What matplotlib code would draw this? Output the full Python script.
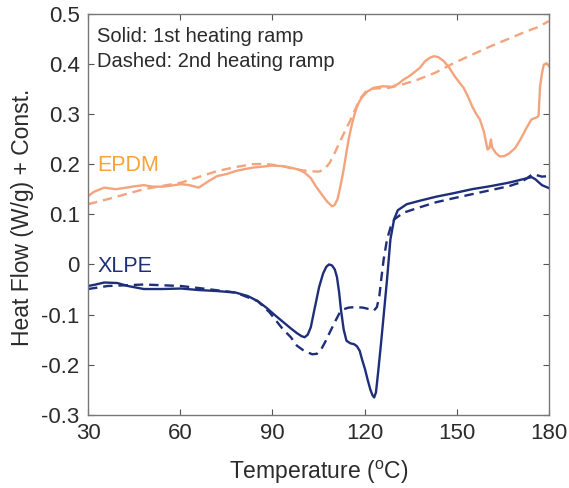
import numpy as np
import matplotlib
matplotlib.use("Agg")
import matplotlib.pyplot as plt

plt.rcParams['font.family'] = ['Liberation Sans', 'DejaVu Sans']

# EPDM, 1st heating ramp (solid)
epdm1_t = [30, 32, 35.3, 39, 42.5, 45.5, 48.2, 51, 54.2, 57, 60.3, 63, 66, 69, 72, 75,
           78, 81, 83.8, 87, 89.8, 93, 95.9, 98.5, 100.5, 102.5, 104.1, 106, 107.7,
           108.7, 109.4, 110.2, 111.2, 112, 113, 114.8, 116, 117.2, 118.3, 119.4, 121,
           123, 126, 129, 131, 132.6, 134.5, 136.2, 138, 139.7, 141.3, 142.6, 144,
           145.8, 147.5, 149.3, 150.8, 152.2, 153.6, 155, 156.3, 157.5, 158.8, 160,
           160.6, 161.1, 161.5, 162.7, 164, 165.5, 167, 169, 170.7, 172.5, 174.3, 176,
           176.6, 177.1, 177.7, 178.3, 179.2, 180]
epdm1_q = [0.136, 0.145, 0.153, 0.15, 0.153, 0.156, 0.158, 0.155, 0.155, 0.157, 0.16,
           0.158, 0.153, 0.165, 0.176, 0.18, 0.186, 0.19, 0.193, 0.195, 0.197, 0.196,
           0.193, 0.189, 0.183, 0.172, 0.156, 0.14, 0.126, 0.12, 0.116, 0.118, 0.13,
           0.152, 0.183, 0.249, 0.283, 0.309, 0.325, 0.335, 0.345, 0.352, 0.355, 0.354,
           0.36, 0.368, 0.375, 0.383, 0.392, 0.405, 0.412, 0.415, 0.413, 0.405, 0.392,
           0.375, 0.363, 0.352, 0.335, 0.315, 0.3, 0.289, 0.265, 0.229, 0.232, 0.249,
           0.233, 0.222, 0.215, 0.216, 0.221, 0.232, 0.249, 0.27, 0.289, 0.293, 0.296,
           0.355, 0.38, 0.398, 0.401, 0.395]

# EPDM, 2nd heating ramp (dashed)
epdm2_t = [30, 36.4, 48.2, 60.3, 72, 78, 83.8, 88, 93.4, 97, 101.6, 105.2, 107, 108.7,
           110.5, 112.3, 115.5, 118.4, 120.2, 121.9, 125, 128, 132, 137.2, 143, 149.3,
           155, 161.1, 167, 172.9, 176.5, 180]
epdm2_q = [0.12, 0.13, 0.15, 0.163, 0.186, 0.194, 0.2, 0.2, 0.196, 0.19, 0.186, 0.185,
           0.19, 0.203, 0.225, 0.249, 0.289, 0.329, 0.343, 0.35, 0.351, 0.352, 0.358,
           0.368, 0.382, 0.402, 0.418, 0.435, 0.45, 0.465, 0.473, 0.485]

# XLPE, 1st heating ramp (solid)
xlpe1_t = [30, 32.5, 35.3, 39.5, 43, 48.2, 54, 60.3, 66, 72, 78, 82, 85.2, 88, 91,
           95.9, 98, 99.5, 100.5, 101.5, 102.5, 103.5, 105.2, 106.5, 107.5, 108.4,
           109.4, 110.3, 111, 111.7, 112.3, 113.2, 114.1, 115.3, 116.6, 117.5, 118.4,
           119.2, 120.1, 121, 121.9, 122.6, 123.1, 123.7, 124.4, 125.3, 126.2, 127.3,
           128.4, 129.6, 130.8, 133.7, 138, 143.3, 149, 155, 161, 167, 171, 174.3,
           175.5, 177.7, 180]
xlpe1_q = [-0.043, -0.04, -0.036, -0.037, -0.043, -0.049, -0.049, -0.048, -0.051,
           -0.053, -0.056, -0.063, -0.073, -0.086, -0.102, -0.127, -0.137, -0.143,
           -0.145, -0.14, -0.125, -0.095, -0.045, -0.018, -0.005, 0.0, -0.002,
           -0.01, -0.025, -0.055, -0.09, -0.13, -0.152, -0.157, -0.159, -0.163,
           -0.172, -0.19, -0.208, -0.23, -0.25, -0.261, -0.265, -0.255, -0.215,
           -0.16, -0.102, -0.03, 0.05, 0.09, 0.108, 0.12, 0.127, 0.135, 0.142, 0.15,
           0.156, 0.163, 0.169, 0.174, 0.17, 0.158, 0.152]

# XLPE, 2nd heating ramp (dashed)
xlpe2_t = [30, 36.4, 48.2, 60.3, 67.4, 78, 85.2, 89, 93.4, 96, 98, 100.5, 103, 104.5,
           105.9, 107.3, 108.7, 110.3, 111.9, 113.3, 114.8, 117, 119.4, 121.5, 123,
           124, 124.8, 125.5, 126.2, 127.3, 128.5, 129.7, 132.6, 137, 143.3, 149, 155,
           161, 167, 171, 174.7, 177.7, 180]
xlpe2_q = [-0.049, -0.043, -0.04, -0.043, -0.048, -0.056, -0.073, -0.095, -0.129,
           -0.145, -0.162, -0.173, -0.179, -0.178, -0.169, -0.153, -0.135, -0.115,
           -0.096, -0.089, -0.086, -0.085, -0.086, -0.089, -0.092, -0.085, -0.063,
           -0.025, 0.01, 0.05, 0.075, 0.09, 0.103, 0.112, 0.124, 0.132, 0.14, 0.148,
           0.156, 0.164, 0.18, 0.175, 0.176]

orange = '#F4A47C'
navy = '#1F2E7A'

fig = plt.figure(figsize=(5.69, 4.88), dpi=100)
ax = fig.add_axes([88/569, 1-415/488, 461/569, 401.5/488])

ax.plot(epdm1_t, epdm1_q, color=orange, lw=1.7)
ax.plot(epdm2_t, epdm2_q, color=orange, lw=1.7, ls=(0, (4, 2.5)))
ax.plot(xlpe1_t, xlpe1_q, color=navy, lw=1.7)
ax.plot(xlpe2_t, xlpe2_q, color=navy, lw=1.7, ls=(0, (4, 2.5)))

ax.set_xlim(30, 180)
ax.set_ylim(-0.3, 0.5)
ax.set_xticks([30, 60, 90, 120, 150, 180])
ax.set_yticks(np.round(np.arange(-0.3, 0.51, 0.1), 1))
ax.set_yticklabels(['-0.3', '-0.2', '-0.1', '0', '0.1', '0.2', '0.3', '0.4', '0.5'])

grey = '#2b2b2b'
ax.tick_params(direction='in', length=4, color='#555555', labelsize=16,
               labelcolor=grey, top=True, right=True, pad=6)
for s in ax.spines.values():
    s.set_color('#777777')
    s.set_linewidth(1.0)

ax.set_xlabel(r'Temperature ($^\mathregular{o}$C)', fontsize=16.5, color=grey)
ax.set_ylabel('Heat Flow (W/g) + Const.', fontsize=16.5, color=grey)
ax.xaxis.set_label_coords(0.5, -0.108)
ax.yaxis.set_label_coords(-0.117, 0.492)

ax.text(33, 0.455, 'Solid: 1st heating ramp', fontsize=14.5, color=grey, va='center')
ax.text(33, 0.404, 'Dashed: 2nd heating ramp', fontsize=14.5, color=grey, va='center')
ax.text(33, 0.198, 'EPDM', fontsize=15.5, color='#F7A23C', va='center')
ax.text(33, -0.005, 'XLPE', fontsize=15.5, color=navy, va='center')

fig.savefig('out.png', dpi=100)
